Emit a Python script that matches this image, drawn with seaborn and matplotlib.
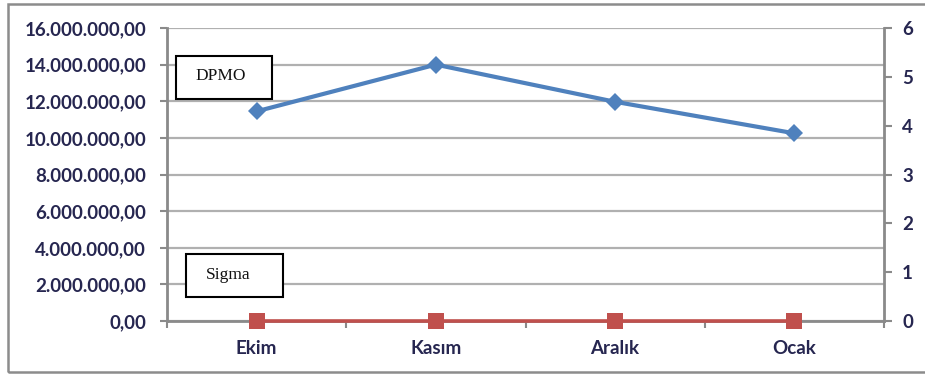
import matplotlib
matplotlib.use("Agg")
import matplotlib.pyplot as plt
from matplotlib.patches import Rectangle
from matplotlib.ticker import FixedLocator, FuncFormatter
import pandas as pd
import seaborn as sns

# Monthly values
months = ["Ekim", "Kasım", "Aralık", "Ocak"]
dpmo = [11_450_000, 14_000_000, 11_970_000, 10_250_000]
sigma = [0, 0, 0, 0]

left_ticks = [0, 2_000_000, 4_000_000, 6_000_000, 8_000_000,
              10_000_000, 12_000_000, 14_000_000, 16_000_000]
right_ticks = [0, 1, 2, 3, 4, 5, 6]

df = pd.DataFrame({"Ay": months, "DPMO": dpmo, "Sigma": sigma})

sns.set_style("white")
plt.rcParams["font.family"] = ["Lato", "DejaVu Sans"]

W, H = 925, 378
fig = plt.figure(figsize=(W / 100, H / 100), dpi=100)


def px(x0, y0, x1, y1):
    """Pixel box (top-left origin) -> figure fraction rect."""
    return [x0 / W, 1 - y1 / H, (x1 - x0) / W, (y1 - y0) / H]


ax = fig.add_axes(px(167, 28, 884, 321))
ax2 = ax.twinx()

text_color = "#262650"
spine_color = "#8a8a8a"
grid_color = "#b0b0b0"
blue = "#4F81BD"
red = "#C0504D"

sns.lineplot(data=df, x="Ay", y="DPMO", ax=ax, color=blue, marker="D",
             markersize=9, markeredgewidth=0, linewidth=3, clip_on=False,
             zorder=4)
sns.lineplot(data=df, x="Ay", y="Sigma", ax=ax2, color=red, marker="s",
             markersize=12, markeredgewidth=0, linewidth=2.6, clip_on=False,
             zorder=4)

for a in (ax, ax2):
    a.set_xlabel("")
    a.set_ylabel("")
    a.set_xlim(-0.5, len(months) - 0.5)

ax.set_ylim(0, 16_000_000)
ax2.set_ylim(0, 6)


def tr_fmt(v, _pos):
    s = f"{v:,.2f}"
    return s.replace(",", "#").replace(".", ",").replace("#", ".")


ax.yaxis.set_major_locator(FixedLocator(left_ticks))
ax.yaxis.set_major_formatter(FuncFormatter(tr_fmt))
ax2.yaxis.set_major_locator(FixedLocator(right_ticks))

ax.set_xticks(range(len(months)))
ax.set_xticklabels(months)
ax.set_xticks([i - 0.5 for i in range(len(months) + 1)], minor=True)

ax.yaxis.grid(True, color=grid_color, linewidth=1.6)
ax.xaxis.grid(False)
ax2.grid(False)
ax.set_axisbelow(True)

for s in ("top", "right"):
    ax.spines[s].set_visible(False)
for s in ("top", "left", "bottom"):
    ax2.spines[s].set_visible(False)
for sp in (ax.spines["left"], ax.spines["bottom"], ax2.spines["right"]):
    sp.set_color(spine_color)
    sp.set_linewidth(2)

ax.tick_params(axis="y", which="major", direction="out", length=5,
               width=1.5, color=spine_color, pad=10, labelsize=13.5,
               labelcolor=text_color, left=True)
ax.tick_params(axis="x", which="major", length=0, pad=14, labelsize=13.5,
               labelcolor=text_color)
ax.tick_params(axis="x", which="minor", direction="out", length=5,
               width=1.5, color=spine_color, bottom=True)
ax2.tick_params(axis="y", which="major", direction="out", length=6,
                width=1.5, color=spine_color, pad=7, labelsize=13.5,
                labelcolor=text_color, right=True)

for lab in ax.get_yticklabels() + ax.get_xticklabels() + ax2.get_yticklabels():
    lab.set_fontweight("bold")

# Series name boxes
for (x0, y0, x1, y1), label, tx, ty in [
    ((176, 56, 272, 99), "DPMO", 221, 80),
    ((186, 254, 283, 297), "Sigma", 228, 279),
]:
    fig.patches.append(Rectangle((x0 / W, 1 - y1 / H), (x1 - x0) / W,
                                 (y1 - y0) / H, transform=fig.transFigure,
                                 facecolor="white", edgecolor="black",
                                 linewidth=1.5, zorder=10))
    fig.text(tx / W, 1 - ty / H, label, ha="center", va="baseline",
             fontsize=12.5, family=["Liberation Serif", "DejaVu Serif"],
             color="#111111", zorder=11)

# Outer chart frame
fig.patches.append(Rectangle((8 / W, 1 - 372 / H), 1.1, (372 - 4) / H,
                             transform=fig.transFigure, facecolor="none",
                             edgecolor="#8c8c8c", linewidth=1.8, zorder=0))

fig.savefig("out.png", dpi=100)
